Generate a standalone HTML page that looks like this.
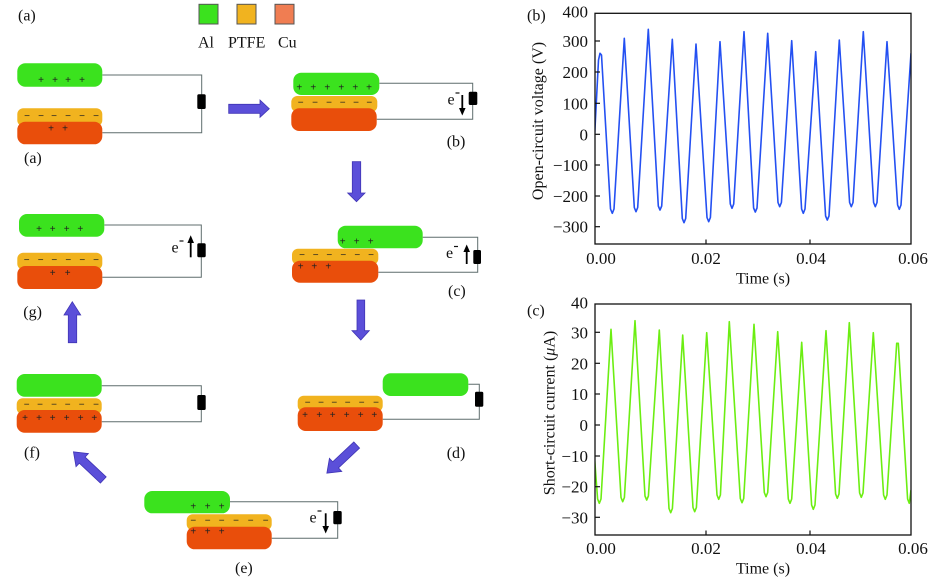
<!DOCTYPE html>
<html><head><meta charset="utf-8"><style>
html,body{margin:0;padding:0;background:#fff;}
svg{display:block;}
text{font-family:"Liberation Serif",serif;fill:#111;}
.pm{font-family:"Liberation Sans",sans-serif;font-size:10px;fill:#222;text-anchor:middle;}
.tk{font-size:17px;}
.ax{font-size:16px;}
.lb{font-size:16px;}
</style></head><body>
<svg width="945" height="579" viewBox="0 0 945 579" xmlns="http://www.w3.org/2000/svg">
<defs>
<clipPath id="cb"><rect x="595" y="13.3" width="316" height="230.7"/></clipPath>
<clipPath id="cc"><rect x="595" y="304" width="316" height="231"/></clipPath>
</defs>
<rect width="945" height="579" fill="#fff"/>

<!-- labels / legend -->
<text class="lb" x="18" y="20.5">(a)</text>
<rect x="199" y="4.3" width="19" height="19.7" fill="#3be21e" stroke="#555" stroke-width="1"/>
<rect x="237" y="4.3" width="19" height="19.7" fill="#f1b31f" stroke="#555" stroke-width="1"/>
<rect x="275" y="4.3" width="19" height="19.7" fill="#f07d52" stroke="#555" stroke-width="1"/>
<text class="lb" x="198" y="47.5">Al</text>
<text class="lb" x="228" y="47.5">PTFE</text>
<text class="lb" x="278" y="47.5">Cu</text>

<g fill="none" stroke="#5f6d6d" stroke-width="1">
<path d="M102.3,75 H201.7 V132.7 H102.3"/>
<path d="M379.3,83.3 H472.7 V119.3 H376.7"/>
<path d="M422.7,237.3 H477.7 V272.3 H378.3"/>
<path d="M468.3,384.3 H479.3 V419.3 H382.7"/>
<path d="M230,501.7 H337.7 V538.3 H271.7"/>
<path d="M101.7,385.7 H201.3 V421.7 H101.7"/>
<path d="M104.3,225 H201.3 V277.3 H102.3"/>
</g>

<!-- Stage a -->
<rect x="17.3" y="63.3" width="85" height="23.4" rx="8" fill="#3be21e"/>
<rect x="17.3" y="108.3" width="85" height="18" rx="6" fill="#f1b31f"/>
<rect x="17.3" y="121.7" width="85" height="22.6" rx="8" fill="#e94e0b"/>
<text x="41" y="83" class="pm">+</text><text x="55" y="83" class="pm">+</text><text x="68" y="83" class="pm">+</text><text x="82" y="83" class="pm">+</text>
<text x="27" y="119" class="pm">−</text><text x="41" y="119" class="pm">−</text><text x="54" y="119" class="pm">−</text><text x="68" y="119" class="pm">−</text><text x="82" y="119" class="pm">−</text><text x="96" y="119" class="pm">−</text>
<text x="51" y="131.5" class="pm">+</text><text x="65" y="131.5" class="pm">+</text>
<rect x="197.3" y="94.3" width="8.4" height="14.7" rx="1.5" fill="#000"/>
<text class="lb" x="24" y="163">(a)</text>

<!-- Stage b -->
<rect x="293.3" y="72.7" width="86" height="22.3" rx="8" fill="#3be21e"/>
<rect x="291.3" y="96" width="86" height="16" rx="6" fill="#f1b31f"/>
<rect x="291.3" y="108.3" width="85.4" height="22.7" rx="8" fill="#e94e0b"/>
<text x="299.3" y="90.5" class="pm">+</text><text x="313.3" y="90.5" class="pm">+</text><text x="327.3" y="90.5" class="pm">+</text><text x="341.3" y="90.5" class="pm">+</text><text x="355.3" y="90.5" class="pm">+</text><text x="369" y="90.5" class="pm">+</text>
<text x="300.7" y="105.3" class="pm">−</text><text x="315" y="105.3" class="pm">−</text><text x="329" y="105.3" class="pm">−</text><text x="342.7" y="105.3" class="pm">−</text><text x="356" y="105.3" class="pm">−</text><text x="369.3" y="105.3" class="pm">−</text>
<rect x="468.7" y="91.7" width="8.6" height="13.3" rx="1.5" fill="#000"/>
<text class="lb" x="447.5" y="104.5">e</text><line x1="455.5" y1="93" x2="459.5" y2="93" stroke="#111" stroke-width="1.2"/>
<line x1="462.3" y1="95" x2="462.3" y2="109" stroke="#000" stroke-width="1.8"/>
<polygon points="459,108 465.6,108 462.3,115.5" fill="#000"/>
<text class="lb" x="446.7" y="146.5">(b)</text>

<!-- Stage c -->
<rect x="337.7" y="225.7" width="85" height="22.6" rx="8" fill="#3be21e"/>
<rect x="292" y="248.7" width="86.3" height="16" rx="6" fill="#f1b31f"/>
<rect x="292" y="260.7" width="86.3" height="22" rx="8" fill="#e94e0b"/>
<text x="342.7" y="244.7" class="pm">+</text><text x="356.7" y="244.7" class="pm">+</text><text x="370.7" y="244.7" class="pm">+</text>
<text x="302" y="258" class="pm">−</text><text x="315.7" y="258" class="pm">−</text><text x="329.3" y="258" class="pm">−</text><text x="343.3" y="258" class="pm">−</text><text x="357.3" y="258" class="pm">−</text><text x="371" y="258" class="pm">−</text>
<text x="300.7" y="269.5" class="pm">+</text><text x="314.3" y="269.5" class="pm">+</text><text x="328.3" y="269.5" class="pm">+</text>
<rect x="473.3" y="250" width="7.7" height="14" rx="1.5" fill="#000"/>
<text class="lb" x="446" y="258">e</text><line x1="454" y1="246.5" x2="458" y2="246.5" stroke="#111" stroke-width="1.2"/>
<line x1="466.7" y1="264" x2="466.7" y2="251" stroke="#000" stroke-width="1.8"/>
<polygon points="463.4,252 470,252 466.7,244.5" fill="#000"/>
<text class="lb" x="448" y="296">(c)</text>

<!-- Stage d -->
<rect x="382.7" y="373.3" width="85.6" height="22.7" rx="8" fill="#3be21e"/>
<rect x="297.7" y="395.7" width="85" height="16" rx="6" fill="#f1b31f"/>
<rect x="297.7" y="407.3" width="85" height="23.7" rx="8" fill="#e94e0b"/>
<text x="307.7" y="405.4" class="pm">−</text><text x="321" y="405.4" class="pm">−</text><text x="334.3" y="405.4" class="pm">−</text><text x="347.7" y="405.4" class="pm">−</text><text x="361.7" y="405.4" class="pm">−</text><text x="376" y="405.4" class="pm">−</text>
<text x="305" y="418" class="pm">+</text><text x="319.3" y="418" class="pm">+</text><text x="332.7" y="418" class="pm">+</text><text x="346.7" y="418" class="pm">+</text><text x="360.7" y="418" class="pm">+</text><text x="374.3" y="418" class="pm">+</text>
<rect x="475" y="391.7" width="8.3" height="15" rx="1.5" fill="#000"/>
<text class="lb" x="446.7" y="458">(d)</text>

<!-- Stage e -->
<rect x="144.3" y="491" width="85.7" height="22.3" rx="8" fill="#3be21e"/>
<rect x="186.7" y="514.3" width="85" height="16" rx="6" fill="#f1b31f"/>
<rect x="186.7" y="526.7" width="85" height="22.6" rx="8" fill="#e94e0b"/>
<text x="193.3" y="509.7" class="pm">+</text><text x="207.7" y="509.7" class="pm">+</text><text x="221.7" y="509.7" class="pm">+</text>
<text x="193.3" y="523.7" class="pm">−</text><text x="207.7" y="523.7" class="pm">−</text><text x="221.7" y="523.7" class="pm">−</text><text x="236" y="523.7" class="pm">−</text><text x="250.7" y="523.7" class="pm">−</text><text x="265.7" y="523.7" class="pm">−</text>
<text x="193.3" y="534.5" class="pm">+</text><text x="207.7" y="534.5" class="pm">+</text><text x="221.7" y="534.5" class="pm">+</text>
<rect x="333.3" y="511" width="8.4" height="13.3" rx="1.5" fill="#000"/>
<text class="lb" x="309.5" y="522.5">e</text><line x1="317.5" y1="511" x2="321.5" y2="511" stroke="#111" stroke-width="1.2"/>
<line x1="325.7" y1="513.3" x2="325.7" y2="527" stroke="#000" stroke-width="1.8"/>
<polygon points="322.4,526 329,526 325.7,533.5" fill="#000"/>
<text class="lb" x="235" y="573">(e)</text>

<!-- Stage f -->
<rect x="16.7" y="374" width="85" height="22.7" rx="8" fill="#3be21e"/>
<rect x="16.7" y="398.3" width="85" height="16" rx="6" fill="#f1b31f"/>
<rect x="16.7" y="410" width="85" height="22.7" rx="8" fill="#e94e0b"/>
<text x="26.7" y="407.7" class="pm">−</text><text x="40" y="407.7" class="pm">−</text><text x="54" y="407.7" class="pm">−</text><text x="67.7" y="407.7" class="pm">−</text><text x="81.7" y="407.7" class="pm">−</text><text x="96" y="407.7" class="pm">−</text>
<text x="25" y="421" class="pm">+</text><text x="39" y="421" class="pm">+</text><text x="52.7" y="421" class="pm">+</text><text x="66.7" y="421" class="pm">+</text><text x="80.7" y="421" class="pm">+</text><text x="94.3" y="421" class="pm">+</text>
<rect x="197.3" y="395" width="8.4" height="15" rx="1.5" fill="#000"/>
<text class="lb" x="24" y="457.5">(f)</text>

<!-- Stage g -->
<rect x="19" y="214" width="85.3" height="22.7" rx="8" fill="#3be21e"/>
<rect x="17.3" y="252.7" width="85" height="17" rx="6" fill="#f1b31f"/>
<rect x="17.3" y="266" width="85" height="23" rx="8" fill="#e94e0b"/>
<text x="39" y="232" class="pm">+</text><text x="52.7" y="232" class="pm">+</text><text x="66.7" y="232" class="pm">+</text><text x="80.3" y="232" class="pm">+</text>
<text x="26.7" y="263" class="pm">−</text><text x="40.7" y="263" class="pm">−</text><text x="54.3" y="263" class="pm">−</text><text x="68.3" y="263" class="pm">−</text><text x="82.3" y="263" class="pm">−</text><text x="96" y="263" class="pm">−</text>
<text x="52.7" y="275.8" class="pm">+</text><text x="67.7" y="275.8" class="pm">+</text>
<rect x="197.3" y="243.3" width="8.4" height="14" rx="1.5" fill="#000"/>
<text class="lb" x="171.5" y="252.5">e</text><line x1="179.5" y1="241" x2="183.5" y2="241" stroke="#111" stroke-width="1.2"/>
<line x1="190.7" y1="257.3" x2="190.7" y2="242" stroke="#000" stroke-width="1.8"/>
<polygon points="187.4,243 194,243 190.7,235.3" fill="#000"/>
<text class="lb" x="23.3" y="317">(g)</text>

<!-- Blue arrows -->
<g fill="#5b4fd9" stroke="#4035b5" stroke-width="0.8">
<polygon points="228.7,104.3 260,104.3 260,100 269.3,108.7 260,117.3 260,113.3 228.7,113.3"/>
<polygon points="352.3,161.7 360.7,161.7 360.7,193 365,193 356.5,201.7 347.7,193 352.3,193"/>
<polygon points="357,300 364.7,300 364.7,330.7 369.3,330.7 360.8,340 352,330.7 357,330.7"/>
<polygon points="68.3,342.7 76.7,342.7 76.7,315 80.7,315 72.3,301.7 64,315 68.3,315"/>
<g transform="translate(356.7,445) rotate(136.7)"><polygon points="0,-4.2 29,-4.2 29,-9 41,0 29,9 29,4.2 0,4.2"/></g>
<g transform="translate(103.3,480) rotate(-136.7)"><polygon points="0,-4.2 29,-4.2 29,-9 41,0 29,9 29,4.2 0,4.2"/></g>
</g>

<!-- Chart b -->
<text class="lb" x="527" y="20.5">(b)</text>
<g clip-path="url(#cb)">
<path fill="none" stroke="#2450f2" stroke-width="1.6" stroke-linejoin="round" d="M594.7,134 L598.5,60 L600,53.3 L601.5,55 L610.5,209 L612.3,213.3 L614,209 L624.3,38.3 L634.3,207.5 L636,211.7 L637.7,207.5 L648.3,29.3 L658.3,206 L660,210 L661.7,206 L672.3,39.3 L682.3,218.5 L684,222.7 L685.7,218.5 L696,44 L707,217.5 L708.7,221.7 L710.4,217.5 L720,41.7 L730.3,204 L732,208.3 L733.7,204 L744,31.7 L753.6,208 L755.3,212 L757,208 L767.7,33.3 L778,202.5 L779.7,206.7 L781.4,202.5 L791.7,40.7 L801.6,209 L803.3,213.3 L805,209 L815.7,51.7 L825.6,216 L827.3,220 L829,216 L839.3,40 L849.6,202.5 L851.3,206.7 L853,202.5 L863.3,31.7 L873.6,202.5 L875.3,206.7 L877,202.5 L887,41.7 L897.6,205 L899.3,209.3 L901,205 L911,53.3"/>
</g>
<rect x="595" y="13.3" width="316" height="230.7" fill="none" stroke="#111" stroke-width="1.3"/>
<g stroke="#111" stroke-width="1.2">
<line x1="595" y1="41" x2="600" y2="41"/><line x1="595" y1="72" x2="600" y2="72"/><line x1="595" y1="103.3" x2="600" y2="103.3"/><line x1="595" y1="134.3" x2="600" y2="134.3"/><line x1="595" y1="165" x2="600" y2="165"/><line x1="595" y1="196" x2="600" y2="196"/><line x1="595" y1="226.7" x2="600" y2="226.7"/>
<line x1="706" y1="244" x2="706" y2="239.5"/><line x1="810" y1="244" x2="810" y2="239.5"/>
</g>
<text class="tk" x="588" y="17.5" text-anchor="end">400</text>
<text class="tk" x="588" y="47" text-anchor="end">300</text>
<text class="tk" x="588" y="78" text-anchor="end">200</text>
<text class="tk" x="588" y="109.3" text-anchor="end">100</text>
<text class="tk" x="588" y="140.3" text-anchor="end">0</text>
<text class="tk" x="588" y="171" text-anchor="end">−100</text>
<text class="tk" x="588" y="202" text-anchor="end">−200</text>
<text class="tk" x="588" y="232.7" text-anchor="end">−300</text>
<text class="tk" x="601" y="264" text-anchor="middle">0.00</text>
<text class="tk" x="706" y="264" text-anchor="middle">0.02</text>
<text class="tk" x="811" y="264" text-anchor="middle">0.04</text>
<text class="tk" x="913" y="264" text-anchor="middle">0.06</text>
<text class="ax" x="763" y="283.5" text-anchor="middle">Time (s)</text>
<text class="ax" transform="translate(543,121) rotate(-90)" text-anchor="middle">Open-circuit voltage (V)</text>

<!-- Chart c -->
<text class="lb" x="527" y="315.5">(c)</text>
<g clip-path="url(#cc)">
<path fill="none" stroke="#6cee12" stroke-width="1.6" stroke-linejoin="round" d="M594.7,460 L597.6,499 L599.3,503.3 L601,499 L611,329.3 L621,497.5 L622.7,501.7 L624.4,497.5 L635,320.7 L645,496 L646.7,500 L648.4,496 L659.3,330 L669,508.5 L670.7,512.7 L672.4,508.5 L682.7,335 L693,507.5 L694.7,511.7 L696.4,507.5 L706.7,332.7 L717,495 L718.7,499.3 L720.4,495 L729.3,321.7 L740.3,498.5 L742,502.7 L743.7,498.5 L754,324.3 L764.3,492.5 L766,496.7 L767.7,492.5 L777.7,331.7 L788.3,499 L790,503.3 L791.7,499 L801.7,342.3 L811.6,505 L813.3,509.3 L815,505 L826,330.7 L835.6,494 L837.3,498.3 L839,494 L849.3,322.7 L859.6,493 L861.3,497.3 L863,493 L873.3,332.7 L883.6,495 L885.3,499.3 L887,495 L896.7,343.3 L898.3,343.3 L907.6,499 L909.3,503.3 L911,490"/>
</g>
<rect x="595" y="304" width="316" height="231" fill="none" stroke="#111" stroke-width="1.3"/>
<g stroke="#111" stroke-width="1.2">
<line x1="595" y1="332.3" x2="600" y2="332.3"/><line x1="595" y1="363.3" x2="600" y2="363.3"/><line x1="595" y1="394" x2="600" y2="394"/><line x1="595" y1="425" x2="600" y2="425"/><line x1="595" y1="456" x2="600" y2="456"/><line x1="595" y1="486.7" x2="600" y2="486.7"/><line x1="595" y1="517.3" x2="600" y2="517.3"/>
<line x1="706" y1="535" x2="706" y2="530.5"/><line x1="810" y1="535" x2="810" y2="530.5"/>
</g>
<text class="tk" x="588" y="308.5" text-anchor="end">40</text>
<text class="tk" x="588" y="338.3" text-anchor="end">30</text>
<text class="tk" x="588" y="369.3" text-anchor="end">20</text>
<text class="tk" x="588" y="400" text-anchor="end">10</text>
<text class="tk" x="588" y="431" text-anchor="end">0</text>
<text class="tk" x="588" y="462" text-anchor="end">−10</text>
<text class="tk" x="588" y="492.7" text-anchor="end">−20</text>
<text class="tk" x="588" y="523.3" text-anchor="end">−30</text>
<text class="tk" x="601" y="554" text-anchor="middle">0.00</text>
<text class="tk" x="706" y="554" text-anchor="middle">0.02</text>
<text class="tk" x="811" y="554" text-anchor="middle">0.04</text>
<text class="tk" x="913" y="554" text-anchor="middle">0.06</text>
<text class="ax" x="763" y="573.5" text-anchor="middle">Time (s)</text>
<text class="ax" transform="translate(554.5,413) rotate(-90)" text-anchor="middle">Short-circuit current (<tspan font-style="italic">μ</tspan>A)</text>
</svg>
</body></html>
